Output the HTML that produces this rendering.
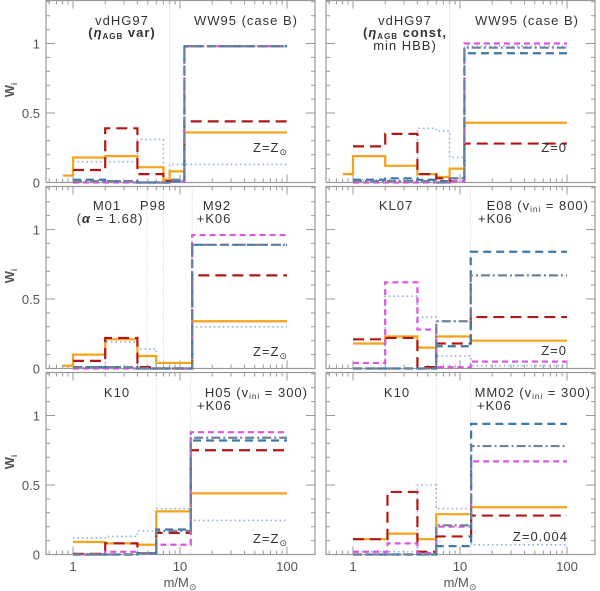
<!DOCTYPE html>
<html><head><meta charset="utf-8"><style>
html,body{margin:0;padding:0;background:#fff;}
svg{display:block;font-family:"Liberation Sans","DejaVu Sans",sans-serif;}
.t{font-size:13px;fill:#333;letter-spacing:1px;}
.tk{font-size:13px;fill:#555;}
</style></head><body>
<svg id="chart" width="600" height="591" viewBox="0 0 600 591" xmlns="http://www.w3.org/2000/svg">
<g id="frames"></g>
<g id="marks"></g>
<g>
<text class="t" x="122" y="25" text-anchor="middle">vdHG97</text>
<text class="t" x="122" y="37" text-anchor="middle" font-weight="bold">(<tspan font-style="italic">η</tspan><tspan font-size="8" dy="2">AGB</tspan><tspan dy="-2"> var)</tspan></text>
<text class="t" x="246" y="25" text-anchor="middle">WW95 (case B)</text>
<text class="t" x="288" y="152" text-anchor="end">Z=Z<tspan font-size="9" dy="3">⊙</tspan></text>

<text class="t" x="405" y="25" text-anchor="middle">vdHG97</text>
<text class="t" x="405" y="37" text-anchor="middle" font-weight="bold">(<tspan font-style="italic">η</tspan><tspan font-size="8" dy="2">AGB</tspan><tspan dy="-2"> const,</tspan></text>
<text class="t" x="405" y="50" text-anchor="middle">min HBB)</text>
<text class="t" x="527" y="25" text-anchor="middle">WW95 (case B)</text>
<text class="t" x="567" y="152" text-anchor="end">Z=0</text>

<text class="t" x="107" y="210" text-anchor="middle">M01</text>
<text class="t" x="110" y="223" text-anchor="middle">(<tspan font-weight="bold" font-style="italic">α</tspan> = 1.68)</text>
<text class="t" x="153" y="210" text-anchor="middle">P98</text>
<text class="t" x="217" y="210" text-anchor="middle">M92</text>
<text class="t" x="214" y="223" text-anchor="middle">+K06</text>
<text class="t" x="288" y="356" text-anchor="end">Z=Z<tspan font-size="9" dy="3">⊙</tspan></text>

<text class="t" x="396" y="210" text-anchor="middle">KL07</text>
<text class="t" x="589" y="210" text-anchor="end">E08 (v<tspan font-size="8" dy="2">ini</tspan><tspan dy="-2"> = 800)</tspan></text>
<text class="t" x="478" y="223">+K06</text>
<text class="t" x="567" y="355" text-anchor="end">Z=0</text>

<text class="t" x="117" y="397" text-anchor="middle">K10</text>
<text class="t" x="308" y="397" text-anchor="end">H05 (v<tspan font-size="8" dy="2">ini</tspan><tspan dy="-2"> = 300)</tspan></text>
<text class="t" x="197" y="410">+K06</text>
<text class="t" x="288" y="543" text-anchor="end">Z=Z<tspan font-size="9" dy="3">⊙</tspan></text>

<text class="t" x="397" y="397" text-anchor="middle">K10</text>
<text class="t" x="591" y="397" text-anchor="end">MM02 (v<tspan font-size="8" dy="2">ini</tspan><tspan dy="-2"> = 300)</tspan></text>
<text class="t" x="477" y="410">+K06</text>
<text class="t" x="568" y="541" text-anchor="end">Z=0.004</text>
</g>
<g>
<text class="tk" x="180" y="587" text-anchor="middle">m/M<tspan font-size="9" dy="3">⊙</tspan></text>
<text class="tk" x="460" y="587" text-anchor="middle">m/M<tspan font-size="9" dy="3">⊙</tspan></text>
<text class="tk" font-weight="bold" transform="translate(14,90) rotate(-90)" text-anchor="middle">W<tspan font-size="8" dy="3">i</tspan></text>
<text class="tk" font-weight="bold" transform="translate(14,276) rotate(-90)" text-anchor="middle">W<tspan font-size="8" dy="3">i</tspan></text>
<text class="tk" font-weight="bold" transform="translate(14,462) rotate(-90)" text-anchor="middle">W<tspan font-size="8" dy="3">i</tspan></text>
</g>
</svg>
<script>
// ---- data ----
const panelNames = ["vdHG97-var","vdHG97-const","M01-M92","KL07-E08","K10-H05","K10-MM02"];
const edges1 = [0.8,1,2,4,7,8,11,100];
const edges2 = [0.8,1,2,4,6,8,11,100];
const edges3 = [0.8,1,2,4,6,13,100];
const edges4 = [1,2,4,6,12.6,100];
const edges5 = [1,2,4,6,12.6,100];
const edges6 = [1,2.1,4,6,12.7,100];
const orange1 = [0.05,0.18,0.19,0.11,0.02,0.08,0.36];
const red1    = [null,0.09,0.39,0.06,0.01,0.01,0.44];
const dotted1 = [null,0.15,0.15,0.31,0.01,0.13,0.13];
const pink1   = [null,0,0,0,0,0.01,0.98];
const slate1  = [null,0.01,0.01,0,0,0.02,0.98];
const blue1   = [null,0.02,0.01,0,0,0.01,0.98];
const orange2 = [0.06,0.19,0.12,0.06,0.04,0.10,0.43];
const red2    = [null,0.26,0.35,0.06,0.03,0.01,0.28];
const dotted2 = [null,0.02,0.02,0.39,0.37,0.18,0.98];
const pink2   = [null,0,0,0,0,0.01,1.0];
const slate2  = [null,0.01,0.01,0.01,0,0.03,0.97];
const blue2   = [null,0.02,0.03,0.02,0.01,0.03,0.93];
const orange3 = [0.02,0.10,0.21,0.09,0.04,0.34];
const red3    = [null,0.055,0.22,0.01,0,0.67];
const dotted3 = [null,0.01,0.19,0.14,0,0.30];
const pink3   = [null,0,0,0,0,0.96];
const slate3  = [null,0.01,0.01,0,0,0.89];
const blue3   = [null,0.01,0.01,0,0,0.89];
const orange4 = [0.18,0.23,0.15,0.23,0.20];
const red4    = [0.21,0.22,0.01,0.18,0.37];
const dotted4 = [0,0.52,0.37,0.09,0.02];
const pink4   = [0.04,0.62,0.28,0.01,0.05];
const slate4  = [0,0,0,0.34,0.67];
const blue4   = [0,0,0,0.16,0.84];
const orange5 = [0.09,0.08,0.07,0.31,0.44];
const red5    = [0.005,0.08,0.01,0.155,0.75];
const dotted5 = [0.12,0.13,0.17,0.33,0.245];
const pink5   = [0,0.02,0.01,0.07,0.88];
const slate5  = [0,0,0.01,0.17,0.84];
const blue5   = [0,0,0.01,0.18,0.82];
const orange6 = [0.11,0.15,0.11,0.29,0.34];
const red6    = [0.11,0.45,0.02,0.13,0.28];
const dotted6 = [0.02,0.02,0.50,0.33,0.07];
const pink6   = [0.02,0.08,0.01,0.20,0.67];
const slate6  = [0,0,0,0.21,0.78];
const blue6   = [0,0,0,0.06,0.94];
const vlines = [[8],[8],[4.9,7,13],[6,12.6],[6,12.6],[6,12.6]];
const yTickLabels = ["0","0.5","1"];
const yTickValues = [0,0.5,1];
const xTickLabels = ["1","10","100"];
const xTickValues = [1,10,100];

// ---- layout ----
const panels = [
 {col:0,row:0,edges:edges1,s:[orange1,red1,dotted1,pink1,slate1,blue1]},
 {col:1,row:0,edges:edges2,s:[orange2,red2,dotted2,pink2,slate2,blue2]},
 {col:0,row:1,edges:edges3,s:[orange3,red3,dotted3,pink3,slate3,blue3]},
 {col:1,row:1,edges:edges4,s:[orange4,red4,dotted4,pink4,slate4,blue4]},
 {col:0,row:2,edges:edges5,s:[orange5,red5,dotted5,pink5,slate5,blue5]},
 {col:1,row:2,edges:edges6,s:[orange6,red6,dotted6,pink6,slate6,blue6]}
];
const seriesNames = ["orange-solid","red-long-dash","blue-dotted","magenta-short-dash","slate-dash-dot","blue-dash"];
const styles = [
 {c:"#f5a31a",w:2.2,d:""},
 {c:"#b01818",w:2.2,d:"11,6"},
 {c:"#8eaee0",w:1.6,d:"1.5,3"},
 {c:"#dd55dd",w:2.2,d:"6,4"},
 {c:"#6f8299",w:2.2,d:"9,3,2,3"},
 {c:"#3d78aa",w:2.2,d:"8,5"}
];
const colLeft=[46,326], colW=269, colX1=[73,353], dec=107;
const rowBottom=[182.5,368.5,554.5], unit=139, panelH=182;
const NS="http://www.w3.org/2000/svg";
const frames=document.getElementById('frames'), marks=document.getElementById('marks');
function mk(tag,attrs,parent){const e=document.createElementNS(NS,tag);for(const k in attrs)e.setAttribute(k,attrs[k]);parent.appendChild(e);return e;}
function xs(col,m){return colX1[col]+dec*Math.log10(m);}
function ys(row,v){return rowBottom[row]-unit*v;}

panels.forEach((p,pi)=>{
 const L=colLeft[p.col], R=L+colW, B=rowBottom[p.row], T=B-panelH;
 const g=mk('g',{},frames);
 
 
 const fr=mk('rect',{x:L,y:T,width:colW,height:panelH,fill:'none',stroke:'#999','stroke-width':1.2},g);
 
 
 vlines[pi].forEach(m=>{
  const l=mk('line',{x1:xs(p.col,m),x2:xs(p.col,m),y1:T,y2:B,stroke:'#bbb','stroke-width':0.8,'stroke-dasharray':'1,2'},g);
  
  
 });
 let tk='';
 for(let e=-1;e<=2;e++){for(let k=1;k<10;k++){const m=k*Math.pow(10,e);const x=xs(p.col,m);if(x<=L+0.5||x>=R-0.5)continue;const len=k===1?8:4;tk+=`M${x},${B}v${-len}M${x},${T}v${len}`;}}
 for(let v=0.1;v<1.31;v+=0.1){const y=ys(p.row,v);const major=Math.abs(v-0.5)<0.01||Math.abs(v-1)<0.01;const len=major?9:4;tk+=`M${L},${y}h${len}M${R},${y}h${-len}`;}
 const tp=mk('path',{d:tk,stroke:'#999','stroke-width':1,fill:'none'},g);
 
 
 if(p.col===0){
  yTickValues.forEach((v,i)=>{const t=mk('text',{x:40,y:ys(p.row,v)+5,'text-anchor':'end',class:'tk'},g);t.textContent=yTickLabels[i];
   
   });
 }
 if(p.row===2){
  xTickValues.forEach((v,i)=>{const t=mk('text',{x:xs(p.col,v),y:571,'text-anchor':'middle',class:'tk'},g);t.textContent=xTickLabels[i];
   
   });
 }
 const order=[2,0,1,3,5,4];
 order.forEach(si=>{
  const vals=p.s[si], ed=p.edges, st=styles[si];
  let d='', started=false;
  for(let i=0;i<vals.length;i++){
   if(vals[i]===null)continue;
   const x0=xs(p.col,ed[i]),x1=xs(p.col,ed[i+1]),y=ys(p.row,vals[i]);
   if(!started){d+=`M${x0},${y}`;started=true;}else d+=`V${y}`;
   d+=`H${x1}`;
  }
  const path=mk('path',{d:d,fill:'none',stroke:st.c,'stroke-width':st.w,'stroke-dasharray':st.d},marks);
  
  
 });
});
</script>
</body></html>
